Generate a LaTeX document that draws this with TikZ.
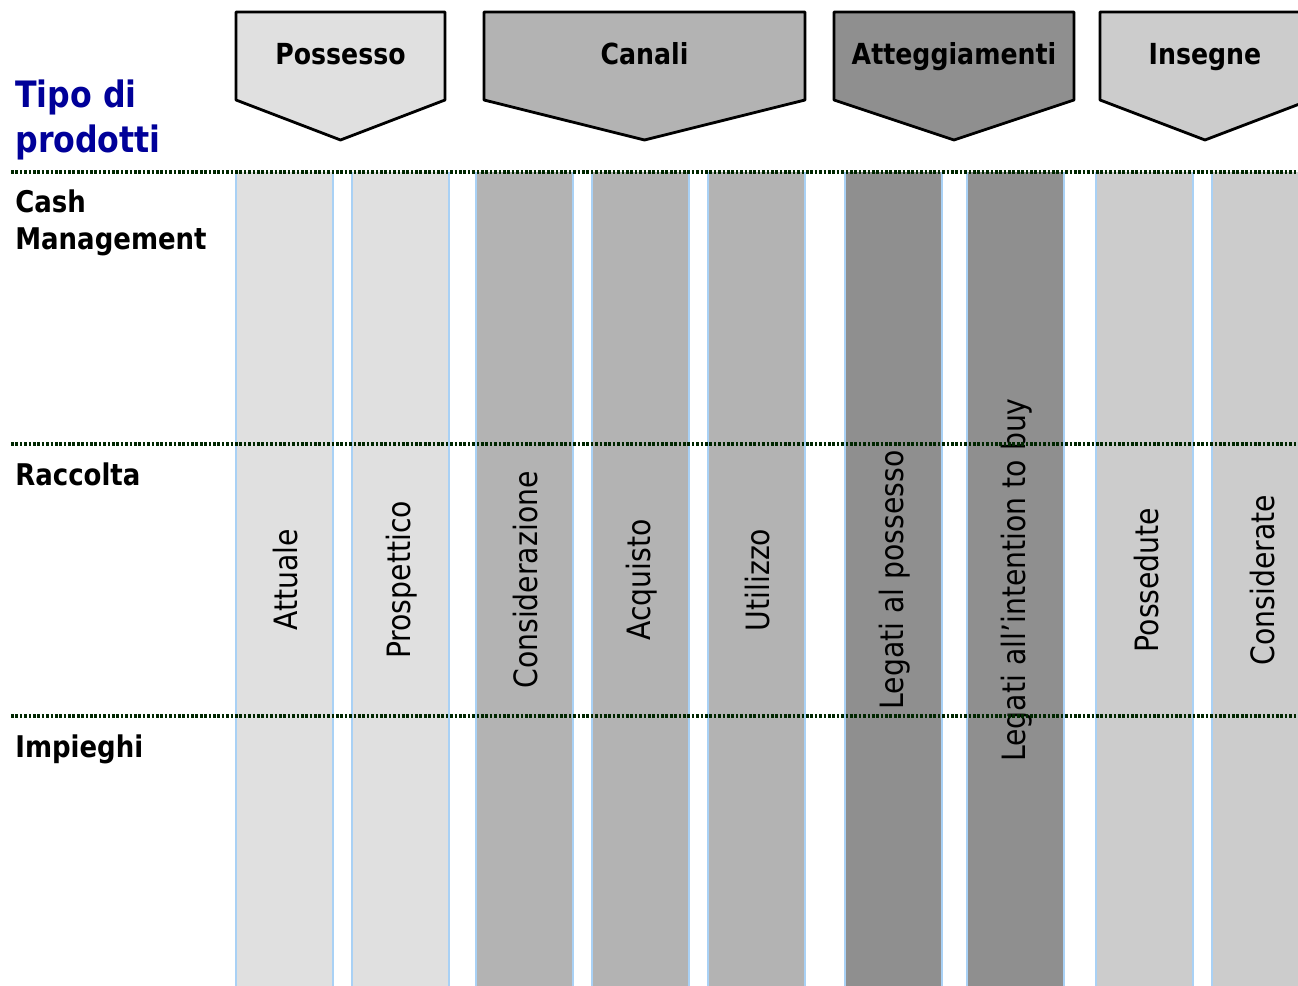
\documentclass[tikz,border=0pt]{standalone}
\usepackage{fontspec}
\setmainfont[FakeStretch=0.87]{DejaVu Sans}
\newfontfamily\colfont[FakeStretch=0.88]{DejaVu Sans}

\definecolor{possessogray}{HTML}{E0E0E0}
\definecolor{canaligray}{HTML}{B3B3B3}
\definecolor{atteggray}{HTML}{8F8F8F}
\definecolor{insegnegray}{HTML}{CCCCCC}
\definecolor{edgeblue}{HTML}{A9D1F5}
\definecolor{titleblue}{HTML}{000099}

\tikzset{
  head/.style={draw=black, line width=1.6pt, line join=round},
  headtext/.style={anchor=base, font=\fontsize{16.5pt}{20pt}\selectfont\bfseries},
  rowtext/.style={anchor=base west, inner sep=0pt, font=\fontsize{17pt}{20pt}\selectfont\bfseries},
  coltext/.style={rotate=90, font=\colfont\fontsize{18.3pt}{22pt}\selectfont},
  coledge/.style={edgeblue, line width=1.4pt},
  rowsplit/.style={line width=2pt, black!85!green, dash pattern=on 1.5pt off 1pt}
}

\begin{document}
\begin{tikzpicture}[x=0.02cm, y=-0.02cm]
  \useasboundingbox (0,0) rectangle (1298,986);
  \clip (0,0) rectangle (1298,986);

  % intestazioni
  \foreach \l/\r/\name/\txt/\col in {236/445/possesso/Possesso/possessogray,
      484/805/canali/Canali/canaligray,
      834/1074/atteggiamenti/Atteggiamenti/atteggray,
      1100/1310/insegne/Insegne/insegnegray} {
    \draw[head, fill=\col] (\l,12) -- (\r,12) -- (\r,100) -- ({(\l+\r)/2},140) -- (\l,100) -- cycle;
    \node[headtext] (\name) at ({(\l+\r)/2},65) {\txt};
  }

  % colonne
  \foreach \x/\name/\txt/\col in {236/attuale/Attuale/possessogray,
      352/prospettico/Prospettico/possessogray,
      476/considerazione/Considerazione/canaligray,
      592/acquisto/Acquisto/canaligray,
      708/utilizzo/Utilizzo/canaligray,
      845/legposs/Legati al possesso/atteggray,
      967/legbuy/Legati all’intention to buy/atteggray,
      1096/possedute/Possedute/insegnegray,
      1212/considerate/Considerate/insegnegray} {
    \fill[\col] (\x,172) rectangle ++(97,814);
    \draw[coledge] (\x,172) -- ++(0,814) (\x+97,172) -- ++(0,814);
    \node[coltext] (\name) at (\x+50,580) {\txt};
  }

  % righe
  \foreach \y in {172,444,716}
    \draw[rowsplit] (11,\y) -- (1298,\y);

  \node[rowtext, text=titleblue, font=\fontsize{20.7pt}{24pt}\selectfont\bfseries] (tipo) at (15,108) {Tipo di};
  \node[rowtext, text=titleblue, font=\fontsize{20.7pt}{24pt}\selectfont\bfseries] (prodotti) at (15,153) {prodotti};
  \node[rowtext] (cash) at (15,213) {Cash};
  \node[rowtext] (management) at (15,250) {Management};
  \node[rowtext] (raccolta) at (15,485) {Raccolta};
  \node[rowtext] (impieghi) at (15,757) {Impieghi};
\end{tikzpicture}
\end{document}
